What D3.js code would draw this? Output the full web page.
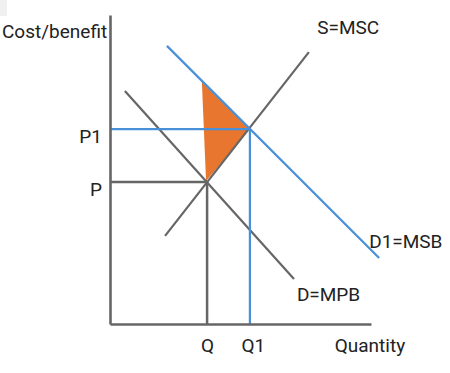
<!DOCTYPE html>
<html>
<head>
<meta charset="utf-8">
<script src="https://cdn.jsdelivr.net/npm/d3@7"></script>
<style>
  html, body { margin: 0; padding: 0; background: #fff; }
  svg { display: block; }
  text { font-family: Roboto, "Noto Sans", sans-serif; font-size: 19px; fill: #222; }
</style>
</head>
<body>
<script>
// ---- data (abstract units) ----
const priceLevels = [5.51, 7.57];          // P, P1
const priceLabels = ["P", "P1"];
const quantityLevels = [3.72, 5.36];       // Q, Q1
const quantityLabels = ["Q", "Q1"];
const supplyMSC = [[2.11, 3.42], [7.62, 10.56]];
const demandMPB = [[0.57, 9.05], [7.05, 1.75]];
const demandMSB = [[2.18, 10.80], [10.31, 2.56]];
const welfareGain = [[3.52, 9.40], [5.36, 7.57], [3.68, 5.55]];
const curveLabels = [
  { name: "S=MSC", q: 7.94, p: 11.25 },
  { name: "D1=MSB", q: 9.93, p: 2.95 },
  { name: "D=MPB", q: 7.16, p: 0.89 }
];

const W = 450, H = 373;
const svg = d3.select("body").append("svg").attr("width", W).attr("height", H);

svg.append("rect").attr("x", 0).attr("y", 0).attr("width", 7).attr("height", 16).attr("fill", "#f0f0f0");

const x = d3.scaleLinear().domain([0, 10]).range([110, 371]);
const y = d3.scaleLinear().domain([0, 12]).range([324, 15]);
const line = d3.line().x(d => x(d[0])).y(d => y(d[1]));

const gray = "#666", blue = "#4a90d9", orange = "#e8762f";
const fontSpec = "Roboto, 'Noto Sans', sans-serif";

// welfare triangle
svg.append("path").datum(welfareGain)
  .attr("d", d => line(d) + "Z").attr("fill", orange);

// guide lines
const P = priceLevels[0], P1 = priceLevels[1], Q = quantityLevels[0], Q1 = quantityLevels[1];
svg.append("path").datum([[0, P], [Q, P]]).attr("d", line).attr("stroke", gray).attr("stroke-width", 2.5).attr("fill", "none");
svg.append("path").datum([[Q, 0], [Q, P]]).attr("d", line).attr("stroke", gray).attr("stroke-width", 2.5).attr("fill", "none");

// curves
[[supplyMSC, gray], [demandMPB, gray]].forEach(([d, c]) => {
  svg.append("path").datum(d).attr("d", line).attr("stroke", c).attr("stroke-width", 2.2).attr("fill", "none");
});
svg.append("path").datum([[0, P1], [Q1, P1]]).attr("d", line).attr("stroke", blue).attr("stroke-width", 2.2).attr("fill", "none");
svg.append("path").datum([[Q1, 0], [Q1, P1]]).attr("d", line).attr("stroke", blue).attr("stroke-width", 2.2).attr("fill", "none");
svg.append("path").datum(demandMSB).attr("d", line).attr("stroke", blue).attr("stroke-width", 2.2).attr("fill", "none");

// axes
const xAxis = d3.axisBottom(x).tickValues(quantityLevels)
  .tickFormat((d, i) => quantityLabels[i]).tickSize(0).tickPadding(15);
const gx = svg.append("g").attr("transform", `translate(0,${y(0)})`).call(xAxis);
gx.select(".domain").attr("stroke", gray).attr("stroke-width", 2.6);
gx.selectAll("text").attr("fill", "#222").style("font-size", "19px").style("font-family", fontSpec);
gx.selectAll(".tick").filter((d, i) => i === 1).select("text").attr("dx", 3);

const yAxis = d3.axisLeft(y).tickValues(priceLevels)
  .tickFormat((d, i) => priceLabels[i]).tickSize(0).tickPadding(8);
const gy = svg.append("g").attr("transform", `translate(${x(0)},0)`).call(yAxis);
gy.select(".domain").attr("stroke", gray).attr("stroke-width", 2.6);
gy.selectAll("text").attr("fill", "#222").style("font-size", "19px").style("font-family", fontSpec)
  .attr("dy", "0.72em").attr("y", 0);

// axis titles
svg.append("text").attr("x", 2).attr("y", 38).text("Cost/benefit");
svg.append("text").attr("x", x(8.61)).attr("y", 352).text("Quantity");

// curve labels
svg.selectAll("text.curve").data(curveLabels).enter().append("text")
  .attr("class", "curve")
  .attr("x", d => x(d.q)).attr("y", d => y(d.p)).text(d => d.name);
</script>
</body>
</html>
